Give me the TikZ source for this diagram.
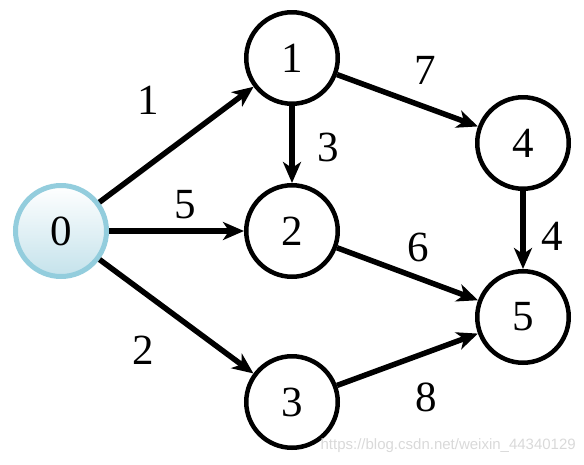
\documentclass[tikz,border=0pt]{standalone}
\usepackage{fontspec}
\setmainfont{Liberation Serif}
\setsansfont{Liberation Sans}
\newfontfamily\numfont{Liberation Serif}
\usepackage{xcolor}
\usepackage{tikz}
\usetikzlibrary{arrows.meta, positioning}
\definecolor{srcdraw}{HTML}{93CDDD}
\definecolor{srcfill}{HTML}{C4E2EB}
\definecolor{markgray}{HTML}{D9D9D9}
\tikzset{
  vtx/.style={circle, draw=black, line width=4.5pt, fill=white, minimum size=91.5pt, inner sep=0pt, font=\numfont\fontsize{43}{43}\selectfont},
  srcvtx/.style={vtx, draw=srcdraw, line width=5pt, minimum size=91pt, top color=white, bottom color=srcfill},
  lab/.style={font=\numfont\fontsize{43}{43}\selectfont, inner sep=0pt},
  arr/.style={-{Stealth[length=21pt, width=18pt, inset=6pt]}, line width=5.5pt, draw=black},
  wmark/.style={font=\sffamily\fontsize{15}{15}\selectfont, text=markgray, anchor=east, inner sep=0pt},
}
\begin{document}
\begin{tikzpicture}[x=1pt, y=-1pt]
  \useasboundingbox (0,0) rectangle (584,464);
  % vertices
  \node[srcvtx] (v0) at (61,231) {0};
  \node[vtx] (v1) at (292,58) {1};
  \node[vtx] (v2) at (292,231) {2};
  \node[vtx] (v3) at (292,402) {3};
  \node[vtx] (v4) at (523,143) {4};
  \node[vtx] (v5) at (523,317) {5};
  % weighted edges
  \draw[arr] (v0) -- node[lab, xshift=-28.5pt, yshift=44.5pt] {1} (v1);
  \draw[arr] (v0) -- node[lab, xshift=8.5pt, yshift=26pt] {5} (v2);
  \draw[arr] (v0) -- node[lab, xshift=-33.5pt, yshift=-33.5pt] {2} (v3);
  \draw[arr] (v1) -- node[lab, xshift=36pt, yshift=-2.5pt] {3} (v2);
  \draw[arr] (v1) -- node[lab, xshift=17.5pt, yshift=30.5pt] {7} (v4);
  \draw[arr] (v2) -- node[lab, xshift=10.5pt, yshift=27pt] {6} (v5);
  \draw[arr] (v4) -- node[lab, xshift=29pt, yshift=-6pt] {4} (v5);
  \draw[arr] (v3) -- node[lab, xshift=18.5pt, yshift=-37.5pt] {8} (v5);
  \node[wmark] (mark) at (576,446) {https://blog.csdn.net/weixin\_44340129};
\end{tikzpicture}
\end{document}
